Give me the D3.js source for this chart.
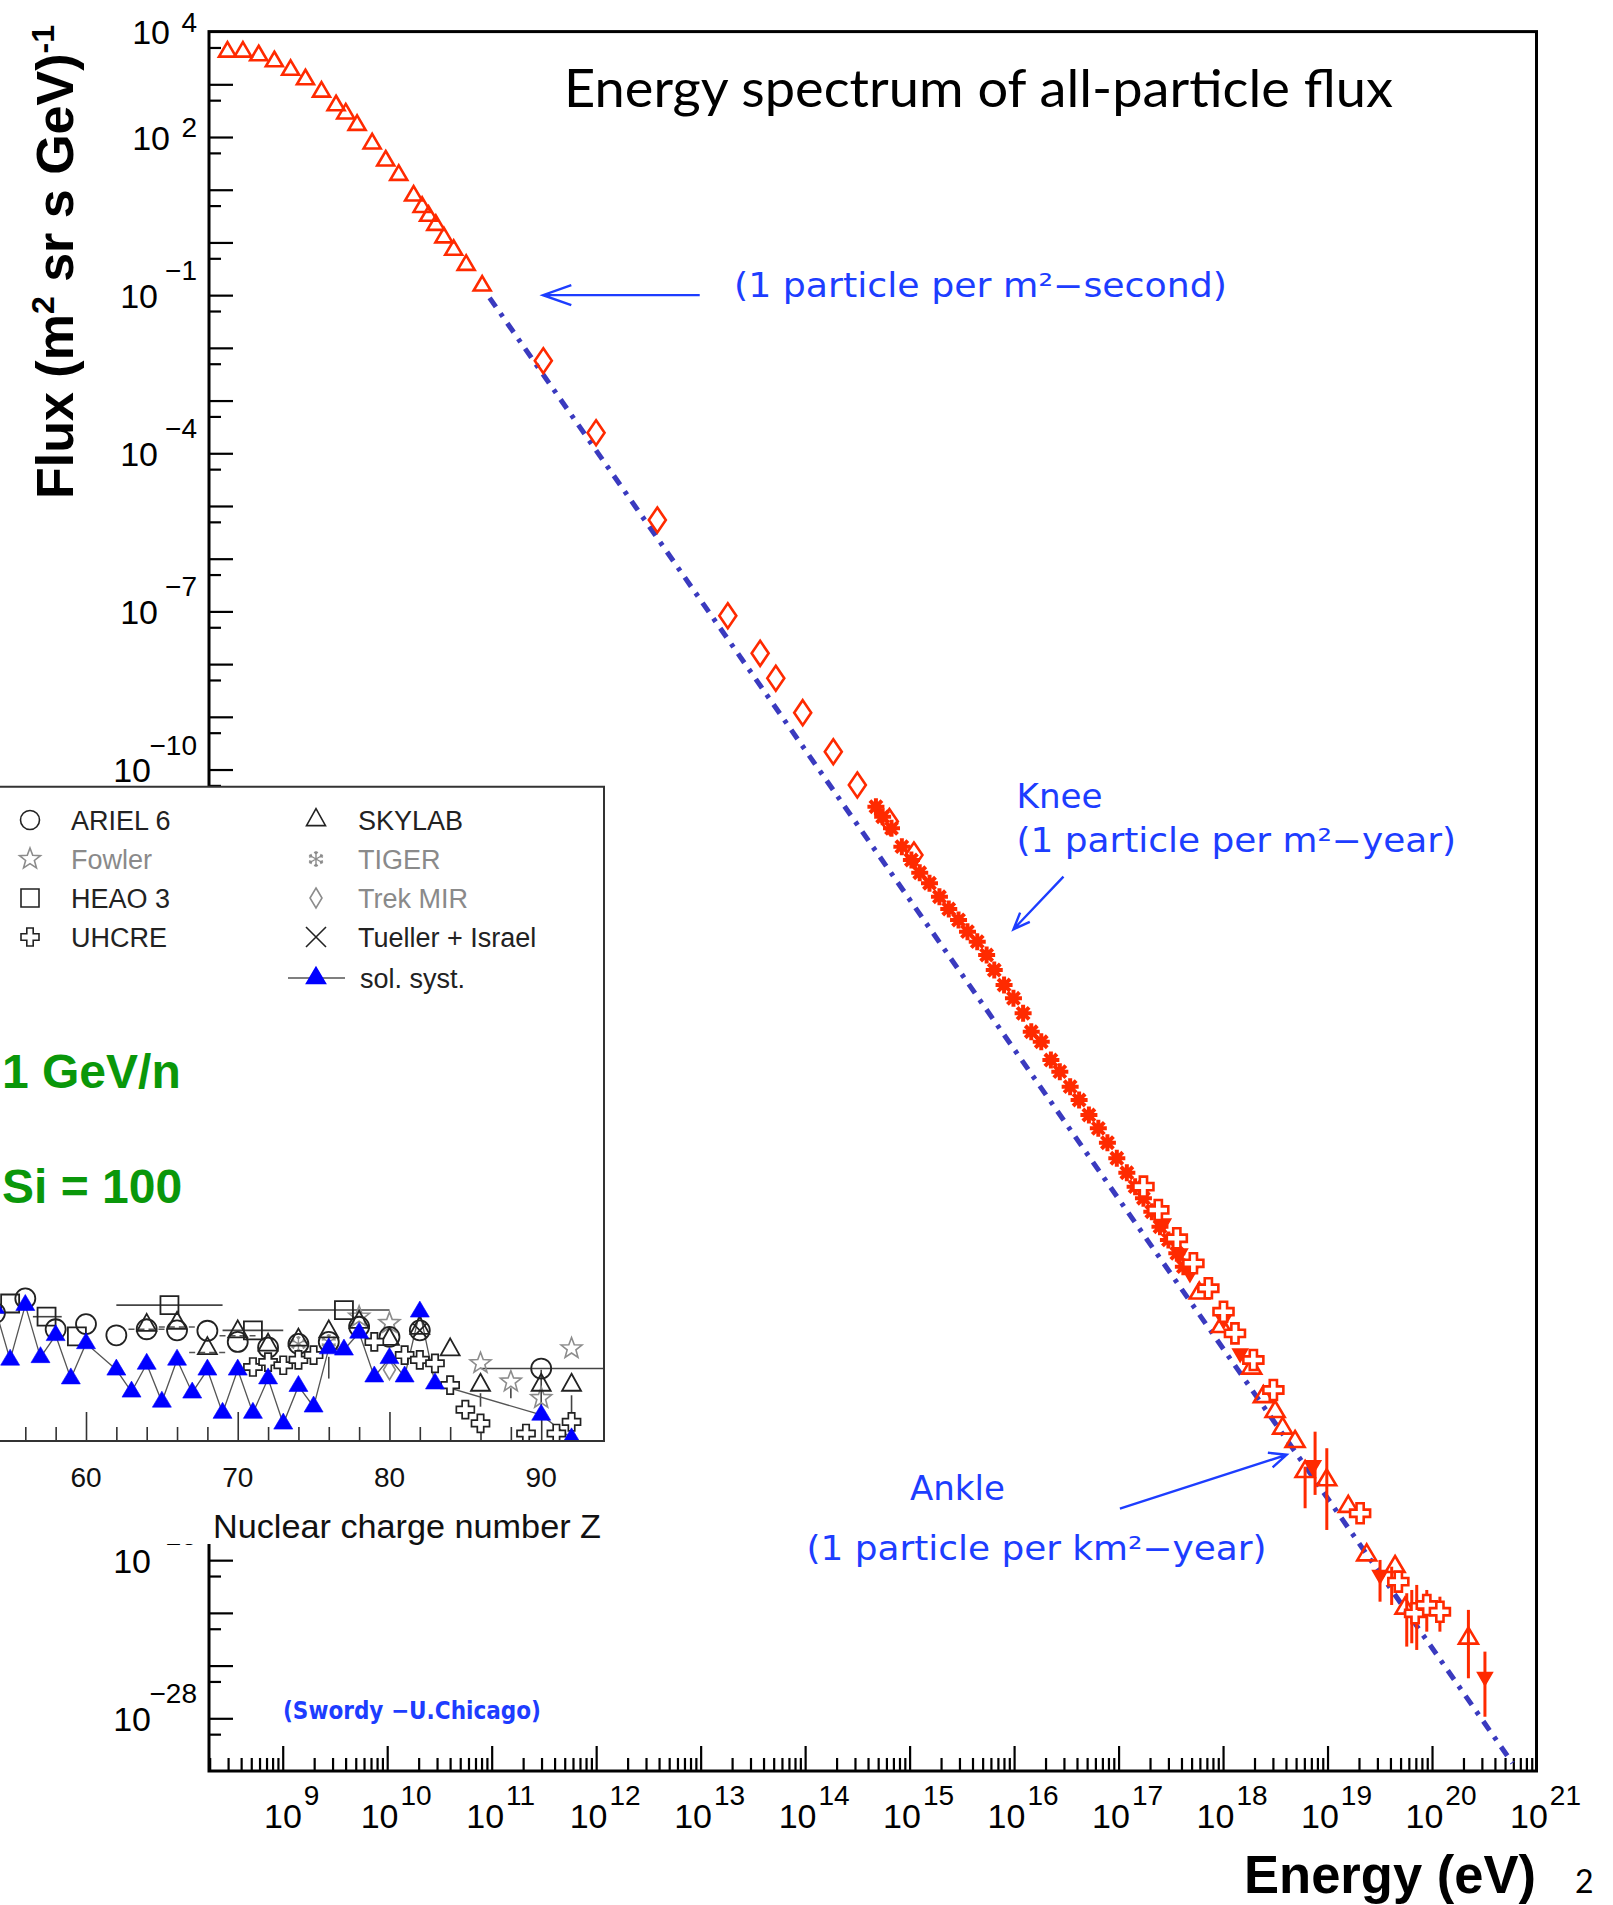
<!DOCTYPE html>
<html>
<head>
<meta charset="utf-8">
<title>Energy spectrum of all-particle flux</title>
<script src="https://cdn.jsdelivr.net/npm/d3@7/dist/d3.min.js"></script>
<style>
  html, body { margin: 0; padding: 0; background: #ffffff; }
  svg { display: block; }
</style>
</head>
<body>
<svg id="chart" width="1613" height="1905" xmlns="http://www.w3.org/2000/svg"></svg>
<script>
// ---------------- all-particle cosmic-ray spectrum ----------------
// energy in eV, flux in (m^2 sr s GeV)^-1

// direct measurements (open triangles)
const directEnergy = [2.96e8, 4.16e8, 5.89e8, 8.32e8, 1.19e9, 1.65e9, 2.35e9, 3.24e9, 4.01e9, 5.15e9,
  7.18e9, 9.68e9, 1.29e10, 1.79e10, 2.16e10, 2.49e10, 2.92e10, 3.49e10, 4.33e10, 5.70e10, 8.11e10];
const directFlux = [4.14e3, 4.14e3, 3.53e3, 2.72e3, 1.87e3, 1.24e3, 721, 398, 278, 169,
  75, 35.6, 19.0, 7.7, 4.68, 3.18, 2.14, 1.24, 0.72, 0.373, 0.151];

// balloon emulsion chambers (open diamonds)
const emulsionEnergy = [3.12e11, 9.98e11, 3.85e12, 1.82e13, 3.71e13, 5.24e13, 9.48e13, 1.86e14, 3.16e14, 6.40e14, 1.10e15];
const emulsionFlux = [5.70e-3, 2.45e-4, 5.42e-6, 8.28e-8, 1.60e-8, 5.38e-9, 1.20e-9, 2.18e-10, 5.09e-11, 1.03e-11, 2.39e-12];

// air-shower arrays through the knee (asterisks)
const kneeEnergy = [4.76e14, 5.52e14, 6.71e14, 8.43e14, 1.04e15, 1.25e15, 1.55e15, 1.93e15, 2.37e15, 2.94e15,
  3.58e15, 4.44e15, 5.46e15, 6.46e15, 8.02e15, 9.86e15, 1.22e16, 1.46e16, 1.82e16, 2.25e16,
  2.74e16, 3.44e16, 4.19e16, 5.20e16, 6.40e16, 7.82e16, 9.62e16, 1.20e17, 1.44e17, 1.73e17,
  2.08e17, 2.49e17, 3.00e17, 3.61e17, 4.17e17];
const kneeFlux = [1.97e-11, 1.27e-11, 7.67e-12, 3.44e-12, 1.92e-12, 1.10e-12, 6.95e-13, 3.86e-13, 2.26e-13, 1.40e-13,
  8.38e-14, 5.42e-14, 3.03e-14, 1.57e-14, 8.17e-15, 4.57e-15, 2.37e-15, 1.06e-15, 6.85e-16, 3.08e-16,
  1.85e-16, 9.61e-17, 5.37e-17, 2.79e-17, 1.56e-17, 8.32e-18, 4.21e-18, 2.24e-18, 1.22e-18, 7.35e-19,
  4.08e-19, 2.12e-19, 1.19e-19, 6.64e-20, 3.70e-20];

// giant ground array (open crosses)
const arrayEnergy = [1.73e17, 2.40e17, 3.61e17, 5.20e17, 7.23e17, 1.01e18, 1.30e18, 1.95e18, 3.03e18,
  2.05e19, 4.76e19, 6.89e19, 8.91e19, 1.19e20];
const arrayFlux = [1.22e-18, 4.41e-19, 1.28e-19, 4.29e-20, 1.44e-20, 5.18e-21, 2.01e-21, 6.28e-22, 1.69e-22,
  7.76e-25, 3.91e-26, 9.82e-27, 1.41e-26, 1.05e-26];

// water-Cherenkov array (open triangles, highest energies)
const tankEnergy = [5.92e17, 9.64e17, 1.88e18, 2.43e18, 3.15e18, 3.72e18, 4.89e18, 6.10e18, 9.82e18,
  1.58e19, 2.37e19, 4.43e19, 5.52e19, 2.23e20];
const tankFlux = [1.16e-20, 2.69e-21, 4.37e-22, 1.26e-22, 6.56e-23, 3.18e-23, 1.77e-23, 4.78e-24, 3.32e-24,
  1.04e-24, 1.25e-25, 7.52e-26, 1.22e-26, 3.30e-27];

// fluorescence detector (filled down triangles)
const fluorEnergy = [2.68e17, 3.87e17, 4.82e17, 1.01e18, 1.46e18, 7.31e18, 3.18e19, 3.21e20];
const fluorFlux = [2.45e-19, 6.64e-20, 2.77e-20, 3.61e-21, 8.41e-22, 6.38e-24, 5.25e-26, 6.15e-28];

// vertical error bars at the highest energies
const errEnergy = [6.10e18, 7.60e18, 9.84e18, 3.18e19, 4.11e19, 5.73e19, 6.40e19, 7.14e19, 8.91e19, 1.19e20, 2.23e20, 3.21e20];
const errHigh = [5.94e-24, 2.74e-23, 1.33e-23, 1.01e-25, 7.52e-26, 2.36e-26, 2.72e-26, 3.39e-26, 2.72e-26, 2.03e-26, 1.14e-26, 1.84e-27];
const errLow = [9.66e-25, 1.73e-24, 3.74e-25, 1.63e-26, 1.41e-26, 2.29e-27, 2.65e-27, 1.98e-27, 4.40e-27, 4.40e-27, 5.74e-28, 1.07e-28];

// single power-law reference line
const refEnergy = [9.55e10, 5.89e20];
const refFlux = [8.9e-2, 1.41e-29];

// axis tick labels (powers of ten)
const xLabelPowers = [9, 10, 11, 12, 13, 14, 15, 16, 17, 18, 19, 20, 21];
const yLabelPowers = [4, 2, -1, -4, -7, -10, -25, -28];

// annotation arrows: [tail energy, tail flux, head energy, head flux]
const arrowSecond = [9.8e12, 0.1, 3.1e11, 0.1];
const arrowKnee = [2.97e16, 9.3e-13, 9.86e15, 9.3e-14];
const arrowAnkle = [1.03e17, 9.5e-25, 4.07e18, 1.0e-23];

// ---------------- inset: heavy-element abundances (Si = 100) ----------------
const solarZ = [54, 55, 56, 57, 58, 59, 60, 62, 63, 64, 65, 66, 67, 68, 69, 70, 71, 72, 73, 74, 75, 76, 77, 78, 79, 80, 81, 82, 83, 90, 92];
const solarAbund = [4.4e-4, 4.1e-5, 5.0e-4, 4.6e-5, 1.26e-4, 1.74e-5, 8.7e-5, 2.6e-5, 9.5e-6, 3.4e-5, 6.0e-6, 4.1e-5, 9.1e-6, 2.6e-5,
  3.6e-6, 2.6e-5, 3.6e-6, 1.74e-5, 2.2e-6, 1.23e-5, 4.8e-6, 6.9e-5, 6.5e-5, 1.41e-4, 1.9e-5, 4.4e-5, 1.9e-5, 3.7e-4, 1.38e-5, 3.3e-6, 1.12e-6];

const arielZ = [54, 56, 58, 60, 62, 64, 66, 68, 70, 72, 74, 76, 78, 80, 82, 90];
const arielAbund = [3.5e-4, 6.8e-4, 1.66e-4, 2.1e-4, 1.26e-4, 1.66e-4, 1.58e-4, 1.55e-4, 9.3e-5, 7.2e-5, 8.5e-5, 9.3e-5, 1.86e-4, 1.17e-4, 1.58e-4, 2.75e-5];
const arielBarZ = [[86, 100]];   // charge range of the actinide point
const arielBarAbund = [2.75e-5];

const heaoZ = [55, 57.4, 59.4, 65.5, 71, 77];
const heaoAbund = [5.4e-4, 2.95e-4, 1.2e-4, 5.0e-4, 1.58e-4, 4.0e-4];
const heaoLo = [55, 56.5, 59.4, 62, 69, 74];
const heaoHi = [55, 58.4, 59.4, 69, 73, 80];

const uhcreZ = [71, 72, 73, 74, 75, 79, 81, 82, 83, 84, 85, 86, 89, 91, 92];
const uhcreAbund = [2.95e-5, 3.7e-5, 3.2e-5, 4.1e-5, 5.1e-5, 9.3e-5, 5.1e-5, 4.1e-5, 3.5e-5, 1.29e-5, 4.2e-6, 2.24e-6, 1.41e-6, 1.41e-6, 2.4e-6];

const skylabZ = [64, 66, 68, 70, 72, 74, 76, 78, 80, 82, 84, 86, 90, 92];
const skylabAbund = [2.0e-4, 2.2e-4, 6.9e-5, 1.48e-4, 8.1e-5, 1.02e-4, 1.48e-4, 2.3e-4, 1.05e-4, 1.74e-4, 6.5e-5, 1.29e-5, 1.29e-5, 1.29e-5];
const skylabBarZ = [64, 66, 68, 70];   // points drawn with dashed charge-range bars

const fowlerZ = [78, 80, 86, 88, 90, 92];
const fowlerAbund = [2.95e-4, 2.2e-4, 3.5e-5, 1.51e-5, 7.1e-6, 6.9e-5];

const tigerZ = [74, 76];
const tigerAbund = [8.5e-5, 9.3e-5];
const trekZ = [80];
const trekAbund = [2.6e-5];
const tuellerZ = [82];
const tuellerAbund = [1.58e-4];

// vertical uncertainties in the inset: [Z, upper, lower]
const insetErrZ = [76, 86, 88, 90, 92];
const insetErrHi = [4.7e-5, 8.9e-6, 1.12e-5, 2.6e-5, 8.1e-6];
const insetErrLo = [1.74e-5, 4.8e-6, 7.1e-6, 4.2e-6, 2.8e-6];

const insetTickLabels = [60, 70, 80, 90];
const legendLeft = ["ARIEL 6", "Fowler", "HEAO 3", "UHCRE"];
const legendRight = ["SKYLAB", "TIGER", "Trek MIR", "Tueller + Israel", "sol. syst."];

// ---------------- drawing ----------------
const RED = "#ff2a00";
const BLUE_TXT = "#1d3dff";
const LINE_BLUE = "#3a3abf";
const HELV = "'Liberation Sans', Arial, Helvetica, sans-serif";
const ROUND = "'DejaVu Sans', 'Noto Sans', sans-serif";

const svg = d3.select("#chart");
svg.append("rect").attr("width", 1613).attr("height", 1905).attr("fill", "#ffffff");

const frame = { left: 209, right: 1536.5, top: 31.6, bottom: 1771 };
const x = d3.scaleLog().domain([1.97e8, 1e21]).range([frame.left, frame.right]);
const y = d3.scaleLog().domain([1e-29, 1e4]).range([frame.bottom, frame.top]);

// marker shapes (centred at the data point)
const shapes = {
  triUp: (w, h) => `M0,${-2 * h / 3}L${w / 2},${h / 3}L${-w / 2},${h / 3}Z`,
  triDown: (w, h) => `M0,${2 * h / 3}L${w / 2},${-h / 3}L${-w / 2},${-h / 3}Z`,
  diamond: (w, h) => `M0,${-h / 2}L${w / 2},0L0,${h / 2}L${-w / 2},0Z`,
  square: (s) => `M${-s / 2},${-s / 2}H${s / 2}V${s / 2}H${-s / 2}Z`,
  cross: (s, a) => `M${-a},${-s}H${a}V${-a}H${s}V${a}H${a}V${s}H${-a}V${a}H${-s}V${-a}H${-a}Z`,
  asterisk: (r) => { const a = r * 0.7071; return `M${-r},0H${r}M0,${-r}V${r}M${-a},${-a}L${a},${a}M${-a},${a}L${a},${-a}`; },
  star5: (r) => {
    let p = "";
    for (let i = 0; i < 10; i++) {
      const rr = i % 2 ? r * 0.42 : r;
      const ang = -Math.PI / 2 + i * Math.PI / 5;
      p += (i ? "L" : "M") + (rr * Math.cos(ang)).toFixed(2) + "," + (rr * Math.sin(ang)).toFixed(2);
    }
    return p + "Z";
  },
  snow: (r) => {
    let p = "";
    const b = r * 0.35;
    for (let i = 0; i < 6; i++) {
      const ang = Math.PI / 2 + i * Math.PI / 3;
      const c = Math.cos(ang), s = Math.sin(ang);
      const ex = r * c, ey = r * s;
      p += `M0,0L${ex},${ey}`;
      // small branches near the tip
      const mx = 0.62 * r * c, my = 0.62 * r * s;
      const l = ang + 0.7, q = ang - 0.7;
      p += `M${mx},${my}L${mx + b * Math.cos(l)},${my + b * Math.sin(l)}`;
      p += `M${mx},${my}L${mx + b * Math.cos(q)},${my + b * Math.sin(q)}`;
    }
    return p;
  },
  xmark: (r) => `M${-r},${-r}L${r},${r}M${-r},${r}L${r},${-r}`
};

const zip = (a, b) => a.map((v, i) => ({ e: v, f: b[i] }));

// ---- frame and axes ----
const axesG = svg.append("g");
const xMinor = [];
for (let e = 8; e <= 20; e++) for (let m = 2; m <= 9; m++) {
  const v = m * Math.pow(10, e);
  if (v > 1.97e8 && v < 1e21) xMinor.push(v);
}
const xMajor = d3.range(9, 21).map(e => Math.pow(10, e));
const yMajor = d3.range(-28, 4).map(e => Math.pow(10, e));
const yMinor = d3.range(-28, 5).map(e => 0.5 * Math.pow(10, e));

function styleAxis(g) {
  g.select(".domain").remove();
  g.selectAll(".tick line").attr("stroke", "#000").attr("stroke-width", 2.2);
  g.selectAll(".tick text").remove();
}
axesG.append("g").attr("transform", `translate(0,${frame.bottom})`)
  .call(d3.axisBottom(x).tickValues(xMinor).tickSize(-13).tickFormat(() => "")).call(styleAxis);
axesG.append("g").attr("transform", `translate(0,${frame.bottom})`)
  .call(d3.axisBottom(x).tickValues(xMajor).tickSize(-25).tickFormat(() => "")).call(styleAxis);
axesG.append("g").attr("transform", `translate(${frame.left},0)`)
  .call(d3.axisLeft(y).tickValues(yMinor).tickSize(-12).tickFormat(() => "")).call(styleAxis);
axesG.append("g").attr("transform", `translate(${frame.left},0)`)
  .call(d3.axisLeft(y).tickValues(yMajor).tickSize(-24).tickFormat(() => "")).call(styleAxis);

axesG.append("rect")
  .attr("x", frame.left).attr("y", frame.top)
  .attr("width", frame.right - frame.left).attr("height", frame.bottom - frame.top)
  .attr("fill", "none").attr("stroke", "#000").attr("stroke-width", 3);

// x tick labels
const labG = svg.append("g").attr("font-family", HELV).attr("fill", "#000");
xLabelPowers.forEach(p => {
  const t = labG.append("text")
    .attr("x", x(Math.pow(10, p)) + 9).attr("y", 1828)
    .attr("text-anchor", "middle").attr("font-size", 34);
  t.append("tspan").text("10");
  t.append("tspan").attr("dx", 2).attr("dy", -23).attr("font-size", 28).text(String(p));
});

// y tick labels
yLabelPowers.forEach(p => {
  const yy = y(Math.pow(10, p));
  const sup = p < 0 ? "\u2212" + (-p) : String(p);
  const baseEnd = p >= 0 ? 170 : (sup.length > 2 ? 151 : 158);
  labG.append("text").attr("x", baseEnd).attr("y", yy + 12.5)
    .attr("text-anchor", "end").attr("font-size", 34).text("10");
  labG.append("text").attr("x", 197).attr("y", yy + (p >= 0 ? 0 : -15))
    .attr("text-anchor", "end").attr("font-size", 28).text(sup);
});

// axis titles
const yTitle = svg.append("text")
  .attr("transform", "translate(73,262) rotate(-90)")
  .attr("text-anchor", "middle")
  .attr("font-family", HELV).attr("font-weight", "bold").attr("font-size", 52).attr("fill", "#000");
yTitle.append("tspan").text("Flux (m");
yTitle.append("tspan").attr("dy", -19).attr("font-size", 32).text("2");
yTitle.append("tspan").attr("dy", 19).text(" sr s GeV)");
yTitle.append("tspan").attr("dy", -19).attr("font-size", 32).text("-1");

svg.append("text").attr("x", 1244).attr("y", 1893)
  .attr("font-family", HELV).attr("font-weight", "bold").attr("font-size", 53)
  .attr("textLength", 292).attr("lengthAdjust", "spacingAndGlyphs")
  .text("Energy (eV)");
svg.append("text").attr("x", 1575).attr("y", 1893)
  .attr("font-family", "Lato, 'Open Sans', sans-serif").attr("font-size", 32).text("2");

// chart title
svg.append("text").attr("x", 564).attr("y", 106.7)
  .attr("font-family", "Lato, 'Open Sans', sans-serif").attr("font-size", 53)
  .attr("textLength", 829).attr("lengthAdjust", "spacingAndGlyphs")
  .text("Energy spectrum of all-particle flux");

// ---- inset: abundance panel ----
const inset = { left: 0, right: 604, top: 786.7, bottom: 1441 };
const zx = d3.scaleLinear().domain([60, 90]).range([86, 541.2]);
const zy = d3.scaleLog().domain([1e-6, 1e7]).range([inset.bottom, inset.top]);

const insetG = svg.append("g");
insetG.append("rect").attr("x", 0).attr("y", inset.top)
  .attr("width", inset.right).attr("height", inset.bottom - inset.top).attr("fill", "#ffffff");
insetG.append("rect").attr("x", 0).attr("y", inset.bottom)
  .attr("width", 628).attr("height", 1544 - inset.bottom).attr("fill", "#ffffff");

svg.append("defs").append("clipPath").attr("id", "insetClip")
  .append("rect").attr("x", 0).attr("y", inset.top)
  .attr("width", inset.right).attr("height", inset.bottom - inset.top);

// inset axis ticks
const zMinor = d3.range(56, 93, 2).filter(z => z % 10 !== 0);
const zMajor = [60, 70, 80, 90];
function styleInsetAxis(g) {
  g.select(".domain").remove();
  g.selectAll(".tick line").attr("stroke", "#333").attr("stroke-width", 1.6);
  g.selectAll(".tick text").remove();
}
insetG.append("g").attr("transform", `translate(0,${inset.bottom})`)
  .call(d3.axisBottom(zx).tickValues(zMinor).tickSize(-14).tickFormat(() => "")).call(styleInsetAxis);
insetG.append("g").attr("transform", `translate(0,${inset.bottom})`)
  .call(d3.axisBottom(zx).tickValues(zMajor).tickSize(-29).tickFormat(() => "")).call(styleInsetAxis);

insetTickLabels.forEach(z => {
  insetG.append("text").attr("x", zx(z)).attr("y", 1487)
    .attr("text-anchor", "middle").attr("font-family", HELV).attr("font-size", 28).attr("fill", "#111")
    .text(String(z));
});
insetG.append("text").attr("x", 213).attr("y", 1538)
  .attr("font-family", HELV).attr("font-size", 34).attr("fill", "#111")
  .attr("textLength", 388).attr("lengthAdjust", "spacingAndGlyphs")
  .text("Nuclear charge number Z");

// inset data
const dataG = insetG.append("g").attr("clip-path", "url(#insetClip)");
const INK = "#222";
const GREY = "#8c8c8c";

// charge-range bars
dataG.selectAll("line.heaoBar").data(heaoZ.map((z, i) => ({ lo: heaoLo[i], hi: heaoHi[i], v: heaoAbund[i] })).filter(d => d.hi > d.lo))
  .join("line").attr("x1", d => zx(d.lo)).attr("x2", d => zx(d.hi))
  .attr("y1", d => zy(d.v)).attr("y2", d => zy(d.v)).attr("stroke", "#444").attr("stroke-width", 1.6);
dataG.selectAll("line.arielBar").data(arielBarZ.map((r, i) => ({ lo: r[0], hi: r[1], v: arielBarAbund[i] })))
  .join("line").attr("x1", d => zx(d.lo)).attr("x2", d => zx(d.hi))
  .attr("y1", d => zy(d.v)).attr("y2", d => zy(d.v)).attr("stroke", "#444").attr("stroke-width", 1.6);
dataG.selectAll("line.skyBar").data(skylabZ.map((z, i) => ({ z, v: skylabAbund[i] })).filter(d => skylabBarZ.includes(d.z)))
  .join("line").attr("x1", d => zx(d.z - 1.2)).attr("x2", d => zx(d.z + 1.2))
  .attr("y1", d => zy(d.v) + 4).attr("y2", d => zy(d.v) + 4)
  .attr("stroke", "#555").attr("stroke-width", 1.5).attr("stroke-dasharray", "6,4");
dataG.selectAll("line.ierr").data(insetErrZ.map((z, i) => ({ z, hi: insetErrHi[i], lo: insetErrLo[i] })))
  .join("line").attr("x1", d => zx(d.z)).attr("x2", d => zx(d.z))
  .attr("y1", d => zy(d.hi)).attr("y2", d => zy(d.lo)).attr("stroke", "#444").attr("stroke-width", 1.6);

// solar-system line
dataG.append("path")
  .datum(solarZ.map((z, i) => ({ z, v: solarAbund[i] })))
  .attr("fill", "none").attr("stroke", "#555").attr("stroke-width", 1.3)
  .attr("d", d3.line().x(d => zx(d.z)).y(d => zy(d.v)));

function insetMarks(zs, vs, pathStr, stroke, fill, sw) {
  dataG.append("g").selectAll("path").data(zs.map((z, i) => ({ z, v: vs[i] })))
    .join("path")
    .attr("transform", d => `translate(${zx(d.z)},${zy(d.v)})`)
    .attr("d", pathStr).attr("fill", fill).attr("stroke", stroke).attr("stroke-width", sw);
}
insetMarks(fowlerZ, fowlerAbund, shapes.star5(11), GREY, "none", 1.6);
insetMarks(tigerZ, tigerAbund, shapes.snow(8), GREY, "none", 1.4);
insetMarks(trekZ, trekAbund, shapes.diamond(12, 20), GREY, "none", 1.6);
insetMarks(arielZ, arielAbund, "M-10,0A10,10 0 1,0 10,0A10,10 0 1,0 -10,0Z", INK, "none", 1.8);
insetMarks(heaoZ, heaoAbund, shapes.square(18), INK, "none", 1.8);
insetMarks(skylabZ, skylabAbund, shapes.triUp(19, 17), INK, "none", 1.8);
insetMarks(tuellerZ, tuellerAbund, shapes.xmark(7), INK, "none", 1.6);
insetMarks(uhcreZ, uhcreAbund, shapes.cross(9, 3.2), INK, "#ffffff", 1.7);
insetMarks(solarZ, solarAbund, shapes.triUp(19, 16), "#0000ff", "#0000ff", 0.6);

// inset frame
insetG.append("path")
  .attr("d", `M${inset.left},${inset.top}H${inset.right}V${inset.bottom}H${inset.left}`)
  .attr("fill", "none").attr("stroke", "#333").attr("stroke-width", 2);

// inset legend
const legG = insetG.append("g").attr("font-family", HELV).attr("font-size", 27);
const legRows = [820, 859, 898, 937, 978];
const leftSyms = [
  ["M-9.5,0A9.5,9.5 0 1,0 9.5,0A9.5,9.5 0 1,0 -9.5,0Z", INK, "none"],
  [shapes.star5(11), GREY, "none"],
  [shapes.square(18), INK, "none"],
  [shapes.cross(9, 3.2), INK, "#fff"]
];
const rightSyms = [
  [shapes.triUp(19, 17), INK, "none"],
  [shapes.snow(8), GREY, "none"],
  [shapes.diamond(12, 20), GREY, "none"],
  [shapes.xmark(10), INK, "none"],
  [shapes.triUp(19, 16), "#0000ff", "#0000ff"]
];
const leftColors = [INK, "#8a8a8a", INK, INK];
const rightColors = [INK, "#8a8a8a", "#8a8a8a", INK, INK];
legendLeft.forEach((name, i) => {
  legG.append("path").attr("transform", `translate(30,${legRows[i]})`)
    .attr("d", leftSyms[i][0]).attr("stroke", leftSyms[i][1]).attr("fill", leftSyms[i][2]).attr("stroke-width", 1.6);
  legG.append("text").attr("x", 71).attr("y", legRows[i] + 9.5).attr("fill", leftColors[i]).text(name);
});
legendRight.forEach((name, i) => {
  if (i === 4) {
    legG.append("line").attr("x1", 288).attr("x2", 345).attr("y1", legRows[i]).attr("y2", legRows[i])
      .attr("stroke", "#555").attr("stroke-width", 1.5);
  }
  legG.append("path").attr("transform", `translate(316,${legRows[i]})`)
    .attr("d", rightSyms[i][0]).attr("stroke", rightSyms[i][1]).attr("fill", rightSyms[i][2])
    .attr("stroke-width", i === 1 ? 1.4 : 1.6);
  legG.append("text").attr("x", i === 4 ? 360 : 358).attr("y", legRows[i] + 9.5).attr("fill", rightColors[i]).text(name);
});

// green panel captions (kept just inside the left edge)
const GREEN = "#0a970a";
insetG.append("text").attr("x", 2).attr("y", 1088)
  .attr("font-family", HELV).attr("font-weight", "bold").attr("font-size", 48).attr("fill", GREEN)
  .text("1 GeV/n");
insetG.append("text").attr("x", 2).attr("y", 1203)
  .attr("font-family", HELV).attr("font-weight", "bold").attr("font-size", 48).attr("fill", GREEN)
  .text("Si = 100");

// ---- main data ----
const mainG = svg.append("g");

// power-law reference
mainG.append("path")
  .datum(zip(refEnergy, refFlux))
  .attr("fill", "none").attr("stroke", LINE_BLUE).attr("stroke-width", 5)
  .attr("stroke-dasharray", "11,8,4,8")
  .attr("d", d3.line().x(d => x(d.e)).y(d => y(d.f)));

// error bars
mainG.selectAll("line.err").data(errEnergy.map((e, i) => ({ e, hi: errHigh[i], lo: errLow[i] })))
  .join("line").attr("x1", d => x(d.e)).attr("x2", d => x(d.e))
  .attr("y1", d => y(d.hi)).attr("y2", d => y(d.lo))
  .attr("stroke", RED).attr("stroke-width", 3);

function mainMarks(E, F, pathStr, fill, sw) {
  mainG.append("g").selectAll("path").data(zip(E, F)).join("path")
    .attr("transform", d => `translate(${x(d.e)},${y(d.f)})`)
    .attr("d", pathStr).attr("fill", fill).attr("stroke", RED).attr("stroke-width", sw)
    .attr("stroke-linejoin", "miter");
}
mainMarks(directEnergy, directFlux, shapes.triUp(17, 14.5), "none", 2.6);
mainMarks(emulsionEnergy, emulsionFlux, shapes.diamond(17, 25), "none", 2.6);
mainMarks(kneeEnergy, kneeFlux, shapes.asterisk(8.5), "none", 4);
mainMarks(tankEnergy, tankFlux, shapes.triUp(19, 16), "none", 2.6);
mainMarks(fluorEnergy, fluorFlux, shapes.triDown(15, 13), RED, 1.5);
mainMarks(arrayEnergy, arrayFlux, shapes.cross(10, 3.6), "#ffffff", 2.6);

// ---- annotations ----
const annG = svg.append("g").attr("fill", BLUE_TXT).attr("font-family", ROUND);
function arrow(a, headLen, halfAngle) {
  const x1 = x(a[0]), y1 = y(a[1]), x2 = x(a[2]), y2 = y(a[3]);
  const ang = Math.atan2(y2 - y1, x2 - x1);
  const p = (t) => [x2 - headLen * Math.cos(ang + t), y2 - headLen * Math.sin(ang + t)];
  const h1 = p(halfAngle), h2 = p(-halfAngle);
  annG.append("path")
    .attr("d", `M${x1},${y1}L${x2},${y2}M${h1[0]},${h1[1]}L${x2},${y2}L${h2[0]},${h2[1]}`)
    .attr("fill", "none").attr("stroke", BLUE_TXT).attr("stroke-width", 2.4);
}
arrow(arrowSecond, 30, 0.34);
arrow(arrowKnee, 18, 0.38);
arrow(arrowAnkle, 19, 0.42);

function note(tx, ty, str, len, size) {
  annG.append("text").attr("x", tx).attr("y", ty).attr("font-size", size)
    .attr("textLength", len).attr("lengthAdjust", "spacingAndGlyphs").text(str);
}
note(734, 297, "(1 particle per m\u00B2\u2212second)", 493, 33);
note(1016.5, 808, "Knee", 86, 33);
note(1016.5, 852, "(1 particle per m\u00B2\u2212year)", 439.5, 33);
note(910, 1500, "Ankle", 95, 33);
note(806.5, 1560, "(1 particle per km\u00B2\u2212year)", 460, 33);
annG.append("text").attr("x", 283).attr("y", 1719).attr("font-size", 24).attr("font-weight", "bold")
  .attr("textLength", 258).attr("lengthAdjust", "spacingAndGlyphs")
  .text("(Swordy \u2212U.Chicago)");
</script>
</body>
</html>
